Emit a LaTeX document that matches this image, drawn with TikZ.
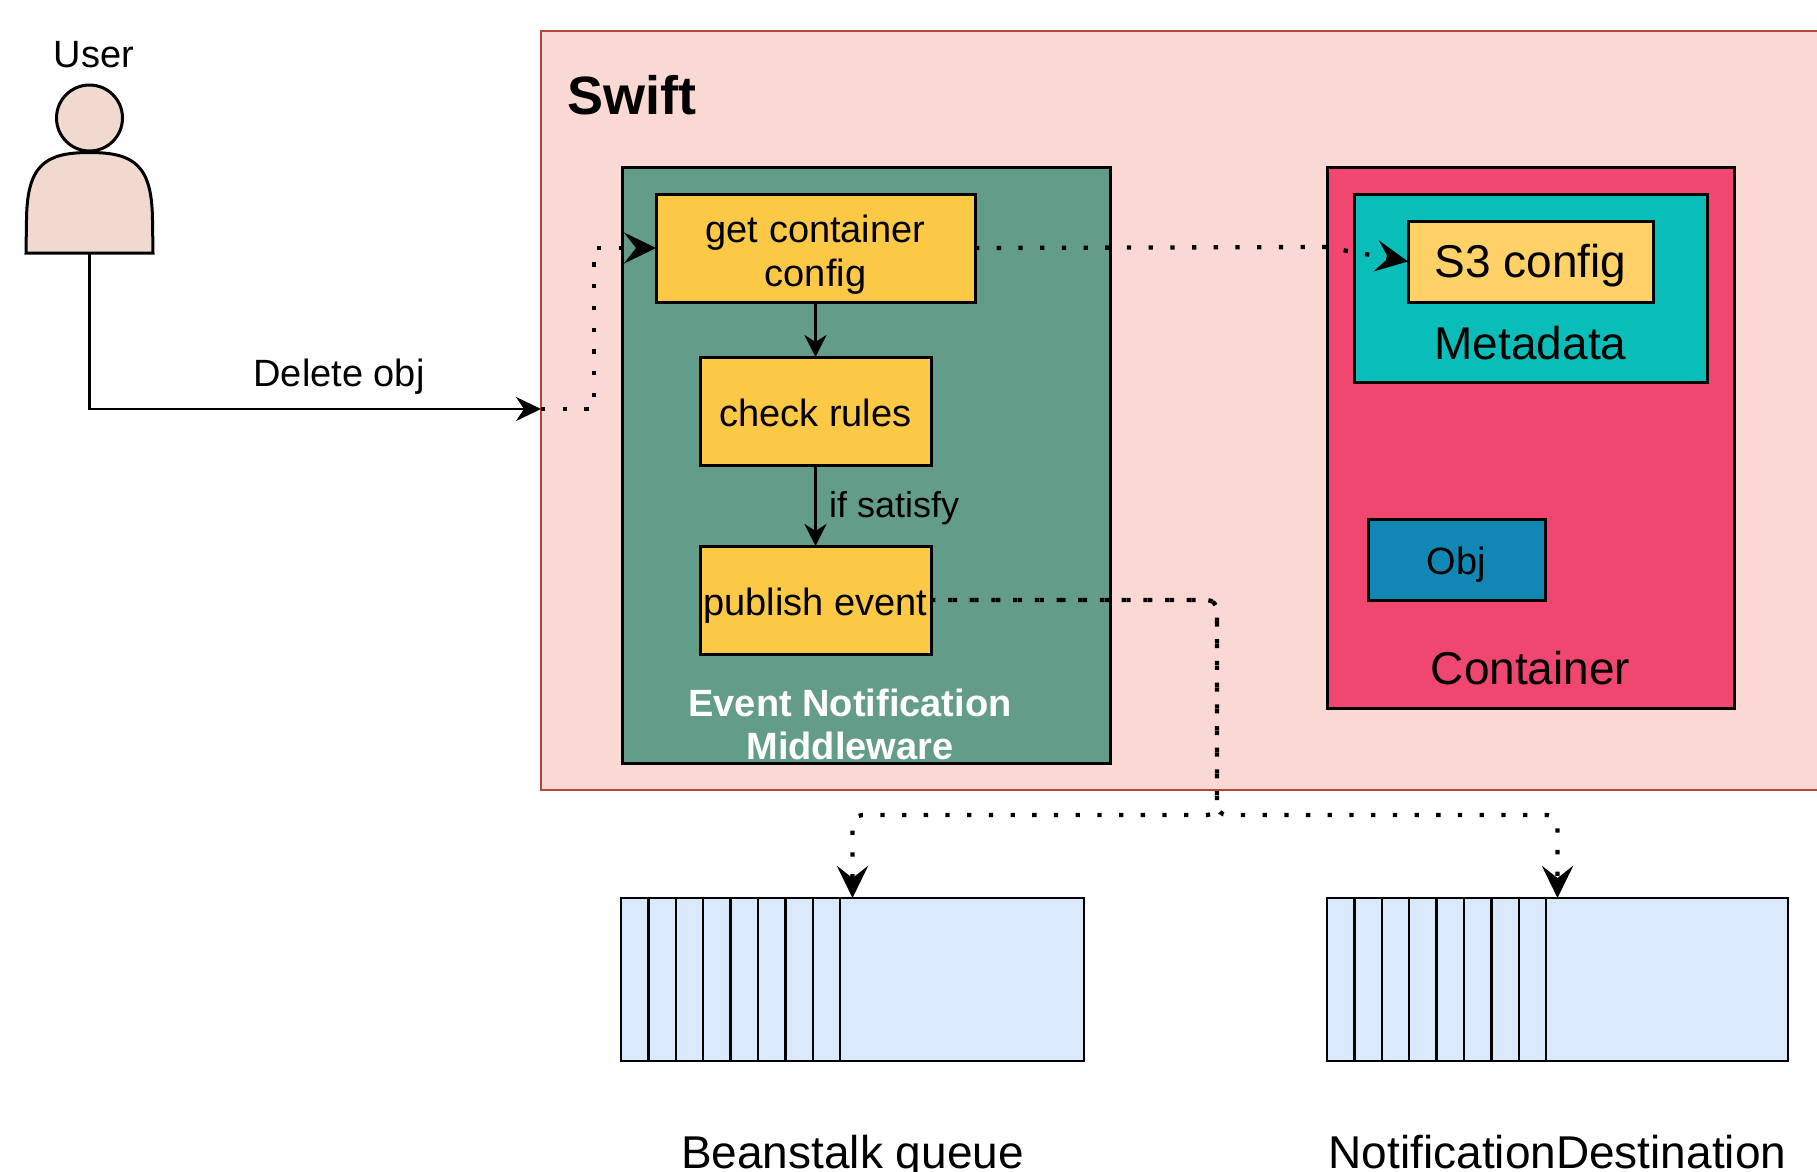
\documentclass[tikz,border=0pt]{standalone}
\usepackage{fontspec}
\setmainfont{Liberation Sans}
\usetikzlibrary{arrows.meta}
\definecolor{swiftfill}{HTML}{FAD9D5}
\definecolor{swiftline}{HTML}{B5473A}
\definecolor{enagreen}{HTML}{639C89}
\definecolor{stepyellow}{HTML}{FCC947}
\definecolor{sthreeyellow}{HTML}{FFD166}
\definecolor{contred}{HTML}{EF4770}
\definecolor{metateal}{HTML}{09BDB8}
\definecolor{objblue}{HTML}{1187B5}
\definecolor{queueblue}{HTML}{DAE8FC}
\definecolor{userfill}{HTML}{F0D9CE}
\begin{document}
\begin{tikzpicture}[x=1pt,y=-1pt,
  boxline/.style={draw=black, line width=3pt, inner sep=0pt, outer sep=0pt},
  stepbox/.style={boxline, fill=stepyellow, minimum width=231pt, minimum height=108pt,
    font=\fontsize{38}{44}\selectfont, text height=37pt, text depth=7pt},
  bigtxt/.style={font=\fontsize{46}{55}\selectfont, inner sep=0pt},
  midtxt/.style={font=\fontsize{38}{44}\selectfont, inner sep=0pt},
  solidarrow/.style={line width=2.6pt, -{Stealth[length=22pt,width=22pt,inset=7pt]}},
  dotline/.style={line width=4.3pt, dash pattern=on 4.3pt off 17.4pt},
  bigtip/.style={-{Stealth[length=32pt,width=31pt,inset=12pt]}},
  queuebox/.style={boxline, line width=2.6pt, fill=queueblue, minimum height=163pt},
  divider/.style={line width=2.4pt}
]
\useasboundingbox (0,0) rectangle (1817,1171);
\clip (0,0) rectangle (1817,1171);

% Swift container
\node[boxline, draw=swiftline, line width=2.4pt, fill=swiftfill,
      minimum width=1289pt, minimum height=759pt] (swift) at (1185.5,410.5) {};
\node[font=\bfseries\fontsize{54}{64}\selectfont, anchor=base west, inner sep=0pt]
      (swifttitle) at (567,114) {Swift};

% Event notification middleware
\node[boxline, fill=enagreen, minimum width=488pt, minimum height=596pt] (ena) at (866,465) {};
\node[font=\bfseries\fontsize{38}{43}\selectfont, text=white, align=center, inner sep=0pt]
      (enalabel) at (850,724.5) {Event Notification\\Middleware};

\node[boxline, fill=stepyellow, minimum width=319pt, minimum height=108pt,
      font=\fontsize{38}{44}\selectfont] (get) at (815.5,248)
      {\raisebox{-8pt}[\height][\depth]{\begin{tabular}{@{}c@{}}get container\\config\end{tabular}}};
\node[stepbox] (check) at (815.5,411) {check rules};
\node[stepbox] (publish) at (815.5,600) {publish event};

% Container
\node[boxline, fill=contred, minimum width=407pt, minimum height=541pt] (container) at (1530.5,437.5) {};
\node[bigtxt, anchor=base] (containerlabel) at (1530.5,684) {Container};
\node[boxline, fill=metateal, minimum width=353pt, minimum height=188pt] (metadata) at (1530.5,288) {};
\node[bigtxt, anchor=base] (metadatalabel) at (1530.5,359) {Metadata};
\node[boxline, fill=sthreeyellow, minimum width=245pt, minimum height=81pt,
      font=\fontsize{46}{55}\selectfont, text height=41pt, text depth=10pt] (sthree) at (1530.5,261.5) {S3 config};
\node[boxline, fill=objblue, minimum width=177pt, minimum height=81pt,
      font=\fontsize{38}{44}\selectfont, text height=37pt, text depth=7pt] (obj) at (1456.5,559.5) {Obj};

% Queues
\node[queuebox, minimum width=463pt] (qone) at (852.5,979.5) {};
\node[queuebox, minimum width=461pt] (qtwo) at (1557.5,979.5) {};
\foreach \k in {1,...,8} {
  \draw[divider] (qone.north west) ++(\k*27.4,0) -- ++(0,163);
  \draw[divider] (qtwo.north west) ++(\k*27.4,0) -- ++(0,163);
}
\node[bigtxt, anchor=base] (qonelabel) at (852.5,1168) {Beanstalk queue};
\node[bigtxt, anchor=base] (qtwolabel) at (1557.5,1168) {NotificationDestination};

% User
\draw[line width=3pt, fill=userfill] (26,253) -- (26.5,220)
  .. controls (27,165) and (45,152.5) .. (89.5,152.5)
  .. controls (134,152.5) and (152,165) .. (152.5,220) -- (153,253) -- cycle;
\node[circle, draw, line width=3pt, fill=userfill, minimum size=66pt, inner sep=0pt] (userhead) at (89.5,118) {};
\node[midtxt, anchor=base] (userlabel) at (94,67) {User};
\coordinate (userfoot) at (89.5,253);
\coordinate (swiftin) at (541,409);

% Connectors
\draw[line width=2.6pt, -{Stealth[length=25pt,width=24pt,inset=8pt]}] (userfoot) |- (swiftin);
\node[midtxt, anchor=base] (deletelabel) at (339,386) {Delete obj};

\draw[dotline, bigtip] (swiftin) -- ++(53,0) |- (get.west);
\draw[solidarrow] (get.south) -- (check.north);
\draw[solidarrow] (check.south) -- (publish.north);
\node[font=\fontsize{36}{42}\selectfont, anchor=base west, inner sep=0pt] (iflabel) at (829,517.5) {if satisfy};

\draw[dotline, bigtip] (get.east) -- (1325,247) -- (sthree.west);

\coordinate (bend) at (1217,600);
\coordinate (split) at (1217,815);
\draw[dotline, bigtip, rounded corners=10pt] (publish.east) -- (bend) -- (split) -| (qone.north);
\draw[dotline, dash phase=4.7pt, bigtip, rounded corners=10pt] (publish.east) -- (bend) -- (split) -| (qtwo.north);
\end{tikzpicture}
\end{document}
